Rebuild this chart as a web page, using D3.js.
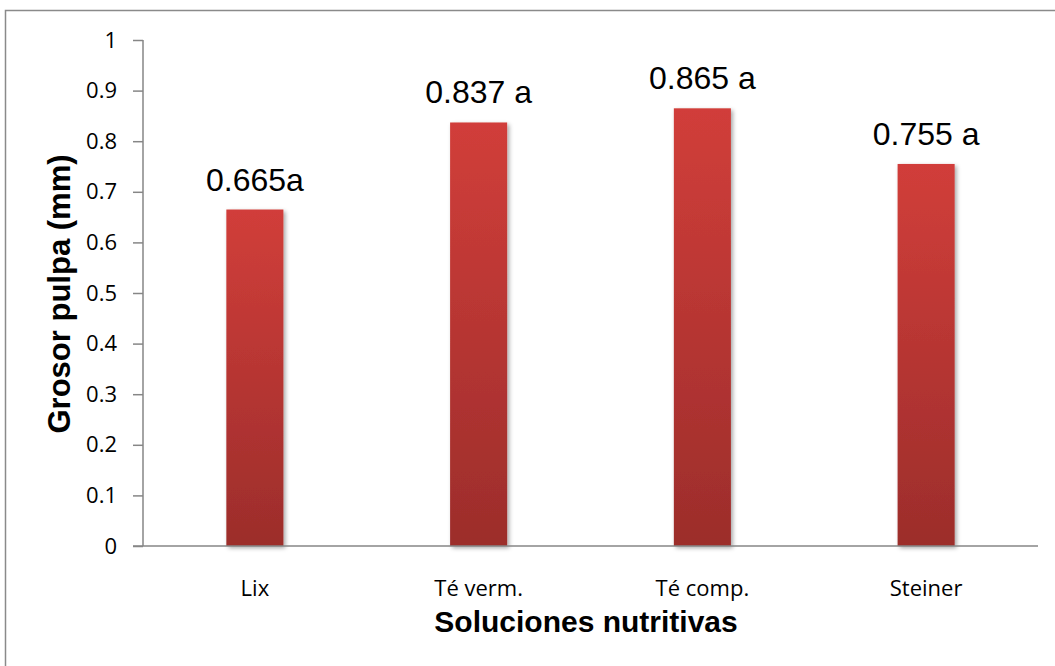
<!DOCTYPE html>
<html>
<head>
<meta charset="utf-8">
<script src="https://cdn.jsdelivr.net/npm/d3@7"></script>
<style>
html,body{margin:0;padding:0;background:#fff;}
svg{display:block;}
</style>
</head>
<body>
<script>
const categories = ["Lix", "Té verm.", "Té comp.", "Steiner"];
const values = [0.665, 0.837, 0.865, 0.755];
const valueLabels = ["0.665a", "0.837 a", "0.865 a", "0.755 a"];
const yTicks = [0, 0.1, 0.2, 0.3, 0.4, 0.5, 0.6, 0.7, 0.8, 0.9, 1];
const yTickLabels = ["0", "0.1", "0.2", "0.3", "0.4", "0.5", "0.6", "0.7", "0.8", "0.9", "1"];
const xTitle = "Soluciones nutritivas";
const yTitle = "Grosor pulpa (mm)";

const W = 1055, H = 666;
const svg = d3.select("body").append("svg").attr("width", W).attr("height", H);

const defs = svg.append("defs");
const grad = defs.append("linearGradient").attr("id", "barGrad")
  .attr("x1", 0).attr("y1", 0).attr("x2", 0).attr("y2", 1);
grad.append("stop").attr("offset", "0%").attr("stop-color", "#d13e3a");
grad.append("stop").attr("offset", "100%").attr("stop-color", "#9c2d2b");
const f = defs.append("filter").attr("id", "shadow").attr("x", "-20%").attr("y", "-5%").attr("width", "150%").attr("height", "120%");
f.append("feDropShadow").attr("dx", 2).attr("dy", 2).attr("stdDeviation", 2).attr("flood-color", "#000").attr("flood-opacity", 0.35);

// outer border
svg.append("rect").attr("x", 5.5).attr("y", 10.5).attr("width", 1100).attr("height", 700)
  .attr("fill", "none").attr("stroke", "#8a8a8a").attr("stroke-width", 1.5);

const x = d3.scaleBand().domain(categories).range([143, 1038]).paddingInner(0.745).paddingOuter(0.3725);
const y = d3.scaleLinear().domain([0, 1]).range([546, 40]);

// bars
svg.append("g").selectAll("rect").data(values).join("rect")
  .attr("x", (d, i) => x(categories[i]))
  .attr("y", d => y(d))
  .attr("width", x.bandwidth())
  .attr("height", d => y(0) - y(d))
  .attr("fill", "url(#barGrad)")
  .attr("filter", "url(#shadow)");

// y axis
const yAxis = d3.axisLeft(y).tickValues(yTicks).tickFormat((d, i) => yTickLabels[i]).tickSize(10).tickPadding(16);
const gy = svg.append("g").attr("transform", "translate(143,0)").call(yAxis);
gy.select(".domain").attr("stroke", "#868686").attr("stroke-width", 1.5).attr("d", "M0,40V546");
gy.selectAll(".tick line").attr("stroke", "#868686").attr("stroke-width", 1.5);
gy.selectAll(".tick text").attr("font-family", "'Open Sans', sans-serif").attr("font-size", 22).attr("fill", "#000");

// x axis
const xAxis = d3.axisBottom(x).tickSize(0).tickPadding(34);
const gx = svg.append("g").attr("transform", "translate(0,546)").call(xAxis);
gx.select(".domain").attr("stroke", "#868686").attr("stroke-width", 1.5).attr("d", "M133,0H1038");
gx.selectAll(".tick text").attr("font-family", "'Open Sans', sans-serif").attr("font-size", 22).attr("fill", "#000");

// value labels
svg.append("g").selectAll("text").data(values).join("text")
  .attr("x", (d, i) => x(categories[i]) + x.bandwidth() / 2)
  .attr("y", d => y(d) - 19)
  .attr("text-anchor", "middle")
  .attr("font-family", "'Liberation Sans', Arial, sans-serif")
  .attr("font-size", 32)
  .attr("fill", "#000")
  .text((d, i) => valueLabels[i]);

// titles
svg.append("text").attr("x", 586).attr("y", 632).attr("text-anchor", "middle")
  .attr("font-family", "'Liberation Sans', Arial, sans-serif").attr("font-weight", "bold")
  .attr("font-size", 30).text(xTitle);
svg.append("text").attr("transform", "translate(70,294) rotate(-90)").attr("text-anchor", "middle")
  .attr("font-family", "'Liberation Sans', Arial, sans-serif").attr("font-weight", "bold")
  .attr("font-size", 31).text(yTitle);
</script>
</body>
</html>
